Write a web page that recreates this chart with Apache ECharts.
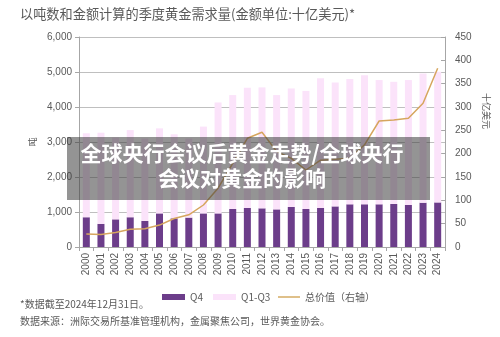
<!DOCTYPE html>
<html>
<head>
<meta charset="utf-8">
<script src="https://cdn.jsdelivr.net/npm/echarts@6/dist/echarts.min.js"></script>
<style>
  html, body { margin: 0; padding: 0; background: #fff; }
  #chart { width: 500px; height: 337px; }
</style>
</head>
<body>
<div id="chart"></div>
<script>
// Annual gold demand: tonnes split into Q4 and Q1-Q3, plus total value (US$bn, right axis)
const years = ['2000','2001','2002','2003','2004','2005','2006','2007','2008','2009','2010','2011','2012',
               '2013','2014','2015','2016','2017','2018','2019','2020','2021','2022','2023','2024'];
const q4Tonnes = [850, 660, 790, 850, 745, 960, 820, 840, 960, 960, 1085, 1115, 1105,
                  1075, 1145, 1085, 1115, 1160, 1220, 1220, 1220, 1230, 1200, 1265, 1275];
const q1q3Tonnes = [2400, 2605, 2340, 2490, 2355, 2430, 2400, 2260, 2480, 3170, 3255, 3435, 3455,
                    3265, 3385, 3375, 3705, 3540, 3580, 3690, 3550, 3490, 3570, 3695, 3735];
const totalValue = [28, 27, 31, 38, 39, 47, 61, 69, 90, 126, 179, 233, 246,
                    205, 190, 165, 186, 188, 190, 219, 270, 272, 276, 308, 383];
const leftTicks = { min: 0, max: 6000, interval: 1000 };
const rightTicks = { min: 0, max: 450, interval: 50 };

const cjk = '"Noto Sans CJK SC", "Noto Sans", sans-serif';
const num = '"Liberation Sans", "DejaVu Sans", sans-serif';
const textGrey = '#595959';

const chart = echarts.init(document.getElementById('chart'), null, { renderer: 'canvas' });

chart.setOption({
  animation: false,
  backgroundColor: '#ffffff',
  grid: { left: 79, right: 55, top: 37, bottom: 90, containLabel: false },
  legend: [
    {
      left: 157, top: 287,
      itemWidth: 23, itemHeight: 6, itemGap: 10,
      textStyle: { fontSize: 10, color: textGrey, fontFamily: cjk },
      data: [
        { name: 'Q4', icon: 'rect' },
        { name: 'Q1-Q3', icon: 'rect' }
      ]
    },
    {
      // plain line key for the value series (no marker)
      left: 272, top: 287,
      itemWidth: 22, itemHeight: 6,
      itemStyle: { color: 'rgba(0,0,0,0)', borderColor: 'rgba(0,0,0,0)', borderWidth: 0 },
      lineStyle: { color: '#dfc08a', width: 2 },
      textStyle: { fontSize: 10, color: textGrey, fontFamily: cjk },
      data: [{ name: '总价值（右轴）' }]
    }
  ],
  xAxis: {
    type: 'category',
    data: years,
    axisLine: { lineStyle: { color: '#a6a6a6', width: 1 } },
    axisTick: { show: true, alignWithLabel: false, length: 4, lineStyle: { color: '#a6a6a6' } },
    axisLabel: { rotate: 90, fontSize: 10, color: textGrey, fontFamily: num, margin: 6 }
  },
  yAxis: [
    {
      type: 'value',
      min: leftTicks.min, max: leftTicks.max, interval: leftTicks.interval,
      axisLine: { show: true, lineStyle: { color: '#a6a6a6' } },
      axisTick: { show: true, length: 4, lineStyle: { color: '#a6a6a6' } },
      splitLine: { show: true, lineStyle: { color: '#bfbfbf', width: 1 } },
      axisLabel: {
        fontSize: 10, color: textGrey, fontFamily: num, margin: 7,
        formatter: v => v.toLocaleString('en-US')
      }
    },
    {
      type: 'value',
      min: rightTicks.min, max: rightTicks.max, interval: rightTicks.interval,
      axisLine: { show: true, lineStyle: { color: '#a6a6a6' } },
      axisTick: { show: true, inside: true, length: 4, lineStyle: { color: '#a6a6a6' } },
      splitLine: { show: false },
      axisLabel: { fontSize: 10, color: textGrey, fontFamily: num, margin: 10 }
    }
  ],
  series: [
    {
      name: 'Q4', type: 'bar', stack: 'tonnes', barWidth: 7,
      itemStyle: { color: '#6c3d8a' },
      data: q4Tonnes
    },
    {
      name: 'Q1-Q3', type: 'bar', stack: 'tonnes', barWidth: 7,
      itemStyle: { color: '#fbe3fa' },
      data: q1q3Tonnes
    },
    {
      name: '总价值（右轴）', type: 'line', yAxisIndex: 1,
      symbol: 'none', smooth: false,
      lineStyle: { color: '#d6a65e', width: 1.5 },
      itemStyle: { color: '#dfc08a' },
      z: 5,
      data: totalValue
    }
  ],
  graphic: [
    {
      type: 'text', left: 20, top: 7,
      style: { text: '以吨数和金额计算的季度黄金需求量(金额单位:十亿美元)*', fill: textGrey,
               font: '13.2px ' + cjk }
    },
    {
      type: 'text', x: 33, y: 142, rotation: Math.PI / 2,
      style: { text: '吨', fill: textGrey, font: '9px ' + cjk, textAlign: 'center', textVerticalAlign: 'middle' }
    },
    {
      type: 'text', x: 486, y: 111, rotation: -Math.PI / 2,
      style: { text: '十亿美元', fill: textGrey, font: '9px ' + cjk, textAlign: 'center', textVerticalAlign: 'middle' }
    },
    {
      type: 'text', left: 20, top: 299,
      style: { text: '*数据截至2024年12月31日。', fill: textGrey, font: '10px ' + cjk }
    },
    {
      type: 'text', left: 20, top: 316,
      style: { text: '数据来源：洲际交易所基准管理机构，金属聚焦公司，世界黄金协会。', fill: textGrey, font: '10px ' + cjk }
    },
    {
      type: 'rect', z: 100,
      shape: { x: 67, y: 137, width: 363, height: 63 },
      style: { fill: 'rgba(60,60,60,0.55)' }
    },
    {
      type: 'text', z: 101, x: 242, y: 166,
      style: {
        text: '全球央行会议后黄金走势/全球央行\n会议对黄金的影响',
        fill: '#ffffff', font: 'bold 21px ' + cjk,
        textAlign: 'center', textVerticalAlign: 'middle', lineHeight: 25
      }
    }
  ]
});
</script>
</body>
</html>
